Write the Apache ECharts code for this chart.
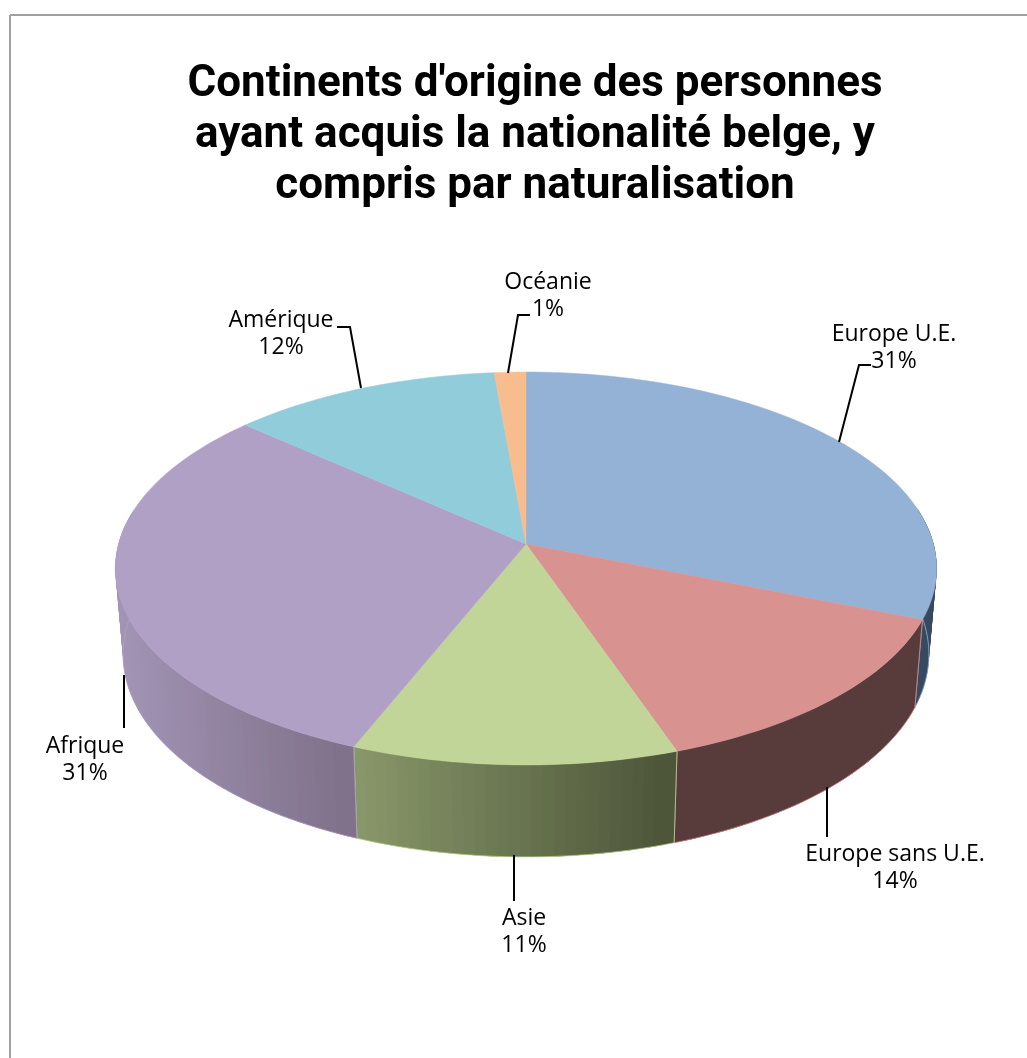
<!DOCTYPE html>
<html>
<head>
<meta charset="utf-8">
<title>Continents d'origine</title>
<script src="https://cdn.jsdelivr.net/npm/echarts@6/dist/echarts.min.js"></script>
<style>
  html, body { margin: 0; padding: 0; background: #fff; }
  #chart { width: 1027px; height: 1058px; }
</style>
</head>
<body>
<div id="chart"></div>
<script>
const categories = ["Europe U.E.", "Europe sans U.E.", "Asie", "Afrique", "Amérique", "Océanie"];
const shares = [31.1, 13.6, 11.4, 30.5, 12.0, 1.4];
const titleText = "Continents d'origine des personnes\nayant acquis la nationalité belge, y\ncompris par naturalisation";

const topColors = ["#94b1d6", "#d89290", "#c2d598", "#b1a0c6", "#91ccdb", "#f7bd8f"];
const wallLeft = ["#374a60", "#583c3b", "#8b9a6c", "#a295b6", "#7ea3ad", "#a88a70"];
const wallRight = ["#374a60", "#583c3b", "#4d5539", "#7f7189", "#7ea3ad", "#a88a70"];

// label centre and leader polyline, in page pixels
const labelPos = [[894, 348], [895, 868], [524, 932], [85, 760], [281, 334], [548, 296]];
const leaders = [
  [[839, 442], [859, 365], [871, 365]],
  [[827, 787], [827, 837]],
  [[514, 855], [514, 901]],
  [[124, 675], [124, 728]],
  [[361, 388], [350, 327], [337, 327]],
  [[508, 373], [518, 315], [530, 315]]
];

// tilted disc: projective map of the unit circle
const CX = 526, CY = 544, A = 407.5, B = 193.4, K = 0.1247;
function upper(t) {
  const X = Math.sin(t), Y = -Math.cos(t), w = 1 - K * Y;
  return [CX + A * X / w, CY + B * Y / w, Y];
}
function lower(t) {
  const p = upper(t);
  return [CX + (p[0] - CX) * 0.981, p[1] + 85 + 7 * p[2], p[2]];
}
// the back of the wall sits behind the top face, leave it out
function isFront(p) {
  return p[2] > -0.2;
}

const total = shares.reduce((a, b) => a + b, 0);
function range(i) {
  let from = 0;
  for (let k = 0; k < i; k++) from += shares[k];
  return [from / total * Math.PI * 2, (from + shares[i]) / total * Math.PI * 2];
}
function arc(i, fn) {
  const r = range(i), n = Math.max(4, Math.ceil((r[1] - r[0]) * 40)), pts = [];
  for (let k = 0; k <= n; k++) pts.push(fn(r[0] + (r[1] - r[0]) * k / n));
  return pts;
}
const seriesData = shares.map((v, i) => ({ name: categories[i], value: v }));

const option = {
  animation: false,
  backgroundColor: "#fff",
  title: {
    text: titleText,
    left: 530,
    top: 54,
    textAlign: "center",
    textStyle: { fontFamily: "Roboto", fontWeight: "bold", fontSize: 44, lineHeight: 51, color: "#000" }
  },
  graphic: [
    { type: "line", silent: true, shape: { x1: 10, y1: 15, x2: 1027, y2: 15 }, style: { stroke: "#a0a0a0", lineWidth: 2 } },
    { type: "line", silent: true, shape: { x1: 10, y1: 15, x2: 10, y2: 1058 }, style: { stroke: "#a0a0a0", lineWidth: 2 } }
  ],
  series: [
    {
      type: "custom",
      coordinateSystem: "none",
      silent: true,
      z: 1,
      data: seriesData,
      renderItem: function (params) {
        const i = params.dataIndex;
        const up = arc(i, upper), low = arc(i, lower);
        const xs = up.concat(low).map(p => p[0]);
        const x0 = Math.min.apply(null, xs), x1 = Math.max.apply(null, xs);
        const last = up.length - 1;
        const children = [];
        // wall swept quad by quad so the silhouette stays closed, each one
        // reaching into the next so no seam shows; walk from the left side
        const steps = [];
        for (let k = 0; k < last; k++) {
          if (isFront(up[k]) && isFront(up[k + 1])) steps.push(k);
        }
        if (up[0][0] > up[last][0]) steps.reverse();
        steps.forEach(function (k) {
          const a = Math.max(steps[0] < steps[steps.length - 1] ? steps[0] : steps[steps.length - 1], k - 1);
          const b = Math.min(Math.max(steps[0], steps[steps.length - 1]) + 1, k + 2);
          const f = ((up[k][0] + up[k + 1][0]) / 2 - x0) / (x1 - x0);
          children.push({
            type: "polygon",
            shape: { points: up.slice(a, b + 1).concat(low.slice(a, b + 1).reverse()) },
            style: { fill: echarts.color.lerp(f, [wallLeft[i], wallRight[i]]) }
          });
        });
        const rim = low.filter(isFront);
        if (isFront(up[0])) rim.unshift(up[0]);
        if (isFront(up[last])) rim.push(up[last]);
        if (rim.length) {
          children.push({
            type: "polyline",
            shape: { points: rim },
            style: { stroke: topColors[i], lineWidth: 1, fill: null, opacity: 0.8 }
          });
        }
        return { type: "group", children: children };
      }
    },
    {
      type: "custom",
      coordinateSystem: "none",
      silent: true,
      z: 2,
      data: seriesData,
      renderItem: function (params) {
        const i = params.dataIndex;
        return {
          type: "polygon",
          shape: { points: [[CX, CY]].concat(arc(i, upper)) },
          style: { fill: topColors[i], stroke: topColors[i], lineWidth: 0.5 }
        };
      }
    },
    {
      type: "custom",
      coordinateSystem: "none",
      silent: true,
      z: 3,
      data: seriesData,
      renderItem: function (params, api) {
        const i = params.dataIndex;
        return {
          type: "group",
          children: [
            {
              type: "polyline",
              shape: { points: leaders[i] },
              style: { stroke: "#000", lineWidth: 2, fill: null }
            },
            {
              type: "text",
              x: labelPos[i][0],
              y: labelPos[i][1],
              style: {
                text: categories[i] + "\n" + Math.round(api.value(0)) + "%",
                fontFamily: "Open Sans",
                fontSize: 23,
                lineHeight: 27,
                fill: "#000",
                align: "center",
                verticalAlign: "middle"
              }
            }
          ]
        };
      }
    }
  ]
};

const myChart = echarts.init(document.getElementById("chart"), null, { renderer: "canvas" });
myChart.setOption(option);
</script>
</body>
</html>
